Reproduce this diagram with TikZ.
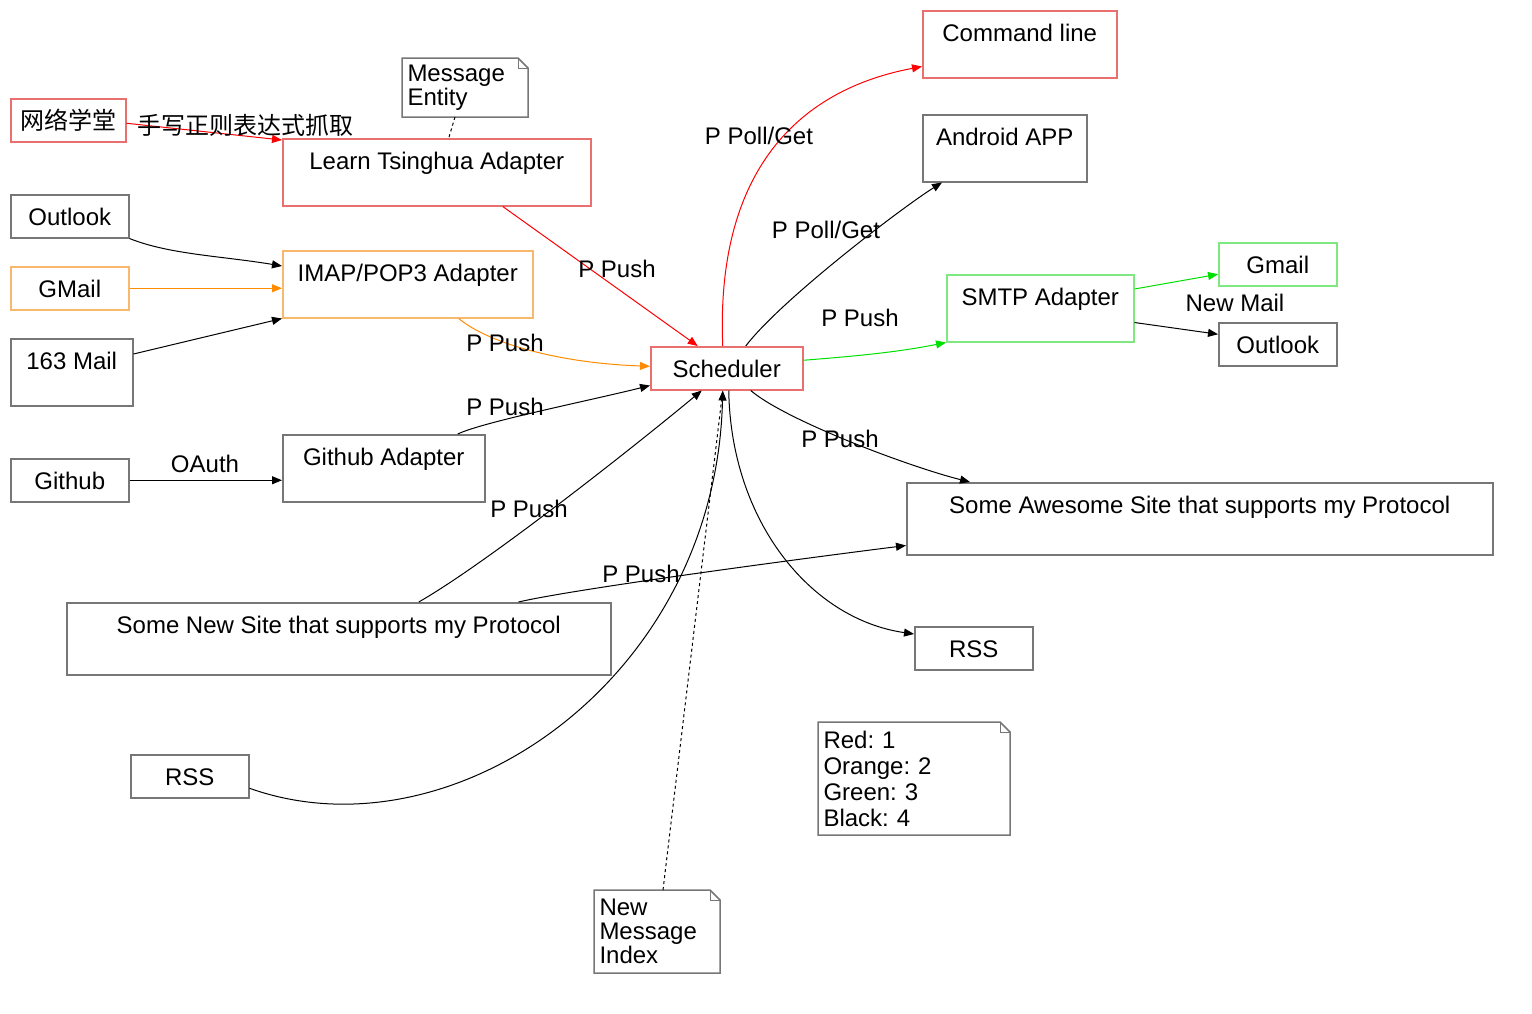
\documentclass[tikz,border=0pt]{standalone}
\usepackage{fontspec}
\setmainfont{Liberation Sans}
\newfontfamily\cjk{Noto Sans CJK SC}
\frenchspacing
\usetikzlibrary{arrows.meta}
\definecolor{boxred}{RGB}{234,112,112}
\definecolor{boxorange}{RGB}{248,184,110}
\definecolor{boxgreen}{RGB}{128,232,128}
\definecolor{boxgray}{RGB}{119,119,119}
\definecolor{edgeorange}{RGB}{255,140,0}
\definecolor{edgegreen}{RGB}{0,224,0}
\tikzset{xy/.style={x={(#1,0)},y={(0,-#1)},font={\fontsize{24}{24}\selectfont},line width=1pt}}
\tikzset{box/.style 2 args={draw=boxgray,line width=1.5pt,anchor=north west,inner sep=0pt,minimum width=#1pt,minimum height=#2pt,text height=31pt,text depth=\the\numexpr#2-31\relax pt}}
\tikzset{note/.style 2 args={anchor=north west,inner sep=0pt,align=left,minimum width=#1pt,minimum height=#2pt,text width=\the\numexpr#1-10\relax pt}}
\tikzset{lbl/.style={inner sep=0pt}}

\begin{document}
\begin{tikzpicture}[xy=1pt,>={Triangle[length=10pt,width=8pt]}]%
    \path [use as bounding box] (0,0) rectangle (1532,1013);
    % sources
    \node [box={115}{43},draw=boxred,font={\fontsize{24}{24}\cjk}] (wlxt) at (10,98) {网络学堂};
    \node [box={118}{43}] (outlook) at (10,194) {Outlook};
    \node [box={118}{43},draw=boxorange] (gmail) at (10,266) {GMail};
    \node [box={122}{67}] (mail163) at (10,338) {163 Mail};
    \node [box={118}{43}] (github) at (10,458) {Github};
    \node [box={544}{72}] (newsite) at (66,602) {Some New Site that supports my Protocol};
    \node [box={118}{43}] (rssin) at (130,754) {RSS};
    % adapters
    \node [box={308}{67},draw=boxred] (lta) at (282,138) {Learn Tsinghua Adapter};
    \node [box={250}{67},draw=boxorange] (imap) at (282,250) {IMAP/POP3 Adapter};
    \node [box={202}{67}] (gha) at (282,434) {Github Adapter};
    \node [box={152}{43},draw=boxred] (sched) at (650,346) {Scheduler};
    \node [box={187}{67},draw=boxgreen] (smtp) at (946,274) {SMTP Adapter};
    % targets
    \node [box={194}{67},draw=boxred] (cmd) at (922,10) {Command line};
    \node [box={164}{67}] (android) at (922,114) {Android APP};
    \node [box={118}{43},draw=boxgreen] (gmailout) at (1218,242) {Gmail};
    \node [box={118}{43}] (outlookout) at (1218,322) {Outlook};
    \node [box={586}{72}] (awesome) at (906,482) {Some Awesome Site that supports my Protocol};
    \node [box={118}{43}] (rssout) at (914,626) {RSS};
    % notes
    \node [note={125}{58}] (msg) at (402,58) {Message\\Entity};
    \node [note={191}{112},font={\fontsize{24}{26}\selectfont}] (legend) at (818,722) {Red: 1\\Orange: 2\\Green: 3\\Black: 4};
    \node [note={125}{82}] (index) at (594,890) {New\\Message\\Index};
    \foreach \n in {msg,legend,index} {
        \path [draw=boxgray,line width=1.5pt] (\n.south west) -- (\n.north west) -- ([xshift=-10pt]\n.north east) -- ([yshift=-10pt]\n.north east) -- (\n.south east) -- cycle;
        \path [draw=boxgray] ([xshift=-10pt]\n.north east) |- ([yshift=-10pt]\n.north east);
    }
    % into the adapters
    \path [draw=red,->] (245,125) node [lbl,font={\fontsize{24}{24}\cjk}] (lblgrab) {手写正则表达式抓取} ([yshift=-3pt]wlxt.east) -- ([yshift=-2pt]lta.north west);
    \path [draw,dashed] ([xshift=-10pt]msg.south) -- ([xshift=12pt]lta.north);
    \path [draw,->] (outlook.south east) .. controls +(40,16) and +(-60,-10) .. ([yshift=-16pt]imap.north west);
    \path [draw=edgeorange,->] (gmail.east) -- (gmail.east -| imap.west);
    \path [draw,->] ([yshift=-16pt]mail163.north east) -- (imap.south west);
    \path [draw,->] (205,464) node [lbl] (lbloauth) {OAuth} (github.east) -- (github.east -| gha.west);
    % into the scheduler
    \path [draw=red,->] (617,269) node [lbl] (lblpusha) {P Push} ([xshift=66pt]lta.south) -- ([xshift=-29pt]sched.north);
    \path [draw=edgeorange,->] (505,343) node [lbl] (lblpushb) {P Push} ([xshift=51pt]imap.south) .. controls +(30,25) and +(-90,-3) .. ([yshift=2pt]sched.west);
    \path [draw,->] (505,407) node [lbl] (lblpushc) {P Push} ([xshift=74pt]gha.north) .. controls +(25,-12) and +(-60,15) .. ([yshift=5pt]sched.south west);
    \path [draw,->] (529,509) node [lbl] (lblpushd) {P Push} ([xshift=80pt]newsite.north) .. controls +(70,-40) and +(-60,50) .. ([xshift=-25pt]sched.south);
    \path [draw,->] ([yshift=-12pt]rssin.east) .. controls +(202,72) and +(-7,290) .. ([xshift=-4pt]sched.south);
    \path [draw,dashed] ([xshift=6pt]index.north) -- ([xshift=-4pt]sched.south);
    % out of the scheduler
    \path [draw=red,->] (759,136) node [lbl] (lblpolla) {P Poll/Get} ([xshift=-4pt]sched.north) .. controls +(-7,-166) and +(-132,25) .. ([yshift=12pt]cmd.south west);
    \path [draw,->] (826,230) node [lbl] (lblpollb) {P Poll/Get} ([xshift=19pt]sched.north) .. controls +(35,-46) and +(-40,25) .. ([xshift=20pt]android.south west);
    \path [draw=edgegreen,->] (860,318) node [lbl] (lblpushe) {P Push} ([yshift=8pt]sched.east) .. controls +(50,-4) and +(-50,10) .. (smtp.south west);
    \path [draw=edgegreen,->] ([yshift=-15pt]smtp.north east) -- ([yshift=-10pt]gmailout.west);
    \path [draw,->] (1235,303) node [lbl] (lblmail) {New Mail} ([yshift=20pt]smtp.south east) -- ([yshift=10pt]outlookout.west);
    \path [draw,->] (840,439) node [lbl] (lblpushf) {P Push} ([xshift=24pt]sched.south) .. controls +(35,30) and +(-60,-15) .. ([xshift=64pt]awesome.north west);
    \path [draw,->] ([xshift=2pt]sched.south) .. controls +(2,130) and +(-104,-15) .. ([yshift=-8pt]rssout.north west);
    \path [draw,->] (641,574) node [lbl] (lblpushg) {P Push} ([xshift=-93pt]newsite.north east) .. controls +(60,-14) and +(-80,10) .. ([yshift=10pt]awesome.south west);
\end{tikzpicture}
\end{document}
